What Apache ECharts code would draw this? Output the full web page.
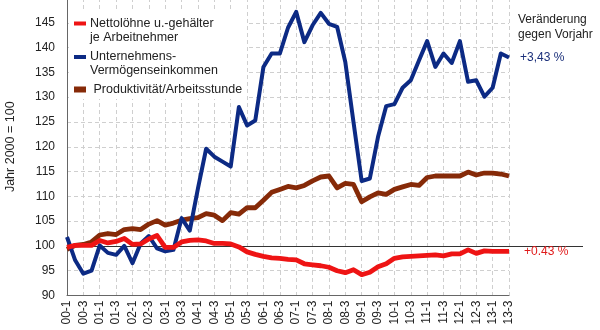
<!DOCTYPE html>
<html>
<head>
<meta charset="utf-8">
<script src="https://cdn.jsdelivr.net/npm/echarts@6/dist/echarts.min.js"></script>
<style>html,body{margin:0;padding:0;background:#fff}#c{width:600px;height:330px}</style>
</head>
<body>
<div id="c"></div>
<script>
const categories = ["00-1","00-2","00-3","00-4","01-1","01-2","01-3","01-4","02-1","02-2","02-3","02-4","03-1","03-2","03-3","03-4","04-1","04-2","04-3","04-4","05-1","05-2","05-3","05-4","06-1","06-2","06-3","06-4","07-1","07-2","07-3","07-4","08-1","08-2","08-3","08-4","09-1","09-2","09-3","09-4","10-1","10-2","10-3","10-4","11-1","11-2","11-3","11-4","12-1","12-2","12-3","12-4","13-1","13-2","13-3"];
const nettoloehne = [99.7,100.1,100.1,100.1,101.1,100.6,100.9,101.5,100.3,100.4,101.4,102.1,99.7,99.7,100.8,101.1,101.2,101.0,100.5,100.5,100.4,99.8,98.8,98.3,97.9,97.6,97.5,97.3,97.2,96.4,96.2,96.0,95.7,95.0,94.6,95.2,94.2,94.7,95.8,96.4,97.5,97.8,97.9,98.0,98.1,98.2,98.0,98.4,98.4,99.2,98.5,99.0,98.9,98.9,98.9];
const unternehmen = [101.8,97.1,94.4,95.0,100.1,98.6,98.2,100.0,96.5,100.5,102.0,99.5,98.9,99.2,105.6,103.1,111.6,119.6,118.0,117.0,116.0,128.0,124.3,125.3,136.1,138.8,138.8,144.0,147.2,141.1,144.5,147.0,144.8,144.2,137.1,125.0,113.1,113.6,122.0,128.2,128.6,131.9,133.4,137.4,141.3,136.1,138.8,136.9,141.3,133.1,133.4,130.1,131.9,138.8,138.0];
const produktivitaet = [99.3,100.1,100.3,100.8,102.2,102.5,102.3,103.3,103.5,103.3,104.4,105.1,104.2,104.6,105.2,105.5,105.7,106.5,106.2,105.1,106.7,106.4,107.7,107.7,109.2,110.8,111.4,112.0,111.7,112.2,113.1,113.9,114.1,111.7,112.6,112.4,108.9,109.9,110.7,110.4,111.4,111.9,112.4,112.2,113.8,114.1,114.1,114.1,114.1,114.9,114.3,114.7,114.7,114.5,114.1];
const seriesNames = ["Nettolöhne u.-gehälter\nje Arbeitnehmer", "Unternehmens-\nVermögenseinkommen", " Produktivität/Arbeitsstunde"];
const endLabels = ["+0.43 %", "+3,43 %"];
const yAxisName = "Jahr 2000 = 100";
const noteText = "Veränderung\ngegen Vorjahr";

const FONT = "'Liberation Sans', Arial, sans-serif";
const RED = "#ee1414", BLUE = "#0c2a84", BROWN = "#862a08";

const chart = echarts.init(document.getElementById('c'), null, {renderer: 'canvas'});

function legendItem(color, iy, ih, tx, ty, text) {
  return [
    {type: 'rect', left: 74, top: iy - ih / 2, z: 11, shape: {width: 12, height: ih}, style: {fill: color}},
    {type: 'text', left: tx, top: ty, z: 11, style: {text: text, font: '12.5px ' + FONT, fill: '#222', lineHeight: 14}}
  ];
}

const option = {
  animation: false,
  backgroundColor: '#fff',
  textStyle: {fontFamily: FONT},
  grid: {left: 67, right: 91, top: -2, bottom: 34.5, containLabel: false, outerBoundsMode: 'none'},
  xAxis: {
    type: 'category',
    data: categories,
    boundaryGap: false,
    axisLine: {lineStyle: {color: '#666', width: 1}},
    axisTick: {show: false},
    axisLabel: {interval: 1, rotate: 90, margin: 5, fontSize: 12, color: '#222', fontFamily: FONT},
    splitLine: {show: true, interval: 1, lineStyle: {color: '#cfcfcf', type: [4, 3], width: 1}}
  },
  yAxis: {
    type: 'value',
    min: 90, max: 150, interval: 5,
    name: yAxisName,
    nameLocation: 'middle',
    nameGap: 50,
    nameRotate: 90,
    nameTextStyle: {fontSize: 12.5, color: '#222', fontFamily: FONT},
    axisLine: {show: true, lineStyle: {color: '#666', width: 1}},
    axisTick: {show: false},
    axisLabel: {fontSize: 12, color: '#222', margin: 12, fontFamily: FONT, showMaxLabel: false,
      formatter: v => (v >= 150 ? '' : String(v))},
    splitLine: {show: true, lineStyle: {color: '#cfcfcf', type: [4, 3], width: 1}}
  },
  series: [
    {
      name: seriesNames[2], type: 'line', data: produktivitaet, symbol: 'none', z: 2,
      lineStyle: {color: BROWN, width: 4.8, join: 'round'}
    },
    {
      name: seriesNames[1], type: 'line', data: unternehmen, symbol: 'none', z: 3,
      lineStyle: {color: BLUE, width: 4, join: 'round'},
      endLabel: {show: true, formatter: endLabels[1], color: '#1a2f7a', fontSize: 12, distance: 11, fontFamily: FONT}
    },
    {
      name: seriesNames[0], type: 'line', data: nettoloehne, symbol: 'none', z: 4,
      lineStyle: {color: RED, width: 4.8, join: 'round'},
      endLabel: {show: true, formatter: endLabels[0], color: '#e01a1a', fontSize: 12, distance: 15, fontFamily: FONT}
    }
  ],
  graphic: {
    elements: [].concat(
      [{type: 'rect', left: 69, top: 11, z: 10, shape: {width: 177, height: 88}, style: {fill: '#fff'}}],
      legendItem(RED, 23.5, 4, 90, 17, seriesNames[0]),
      legendItem(BLUE, 57, 4, 90, 50, seriesNames[1]),
      legendItem(BROWN, 89.5, 6, 90, 83, seriesNames[2]),
      [{type: 'text', left: 518, top: 12, style: {text: noteText, font: '12px ' + FONT, fill: '#222', lineHeight: 15}}]
    )
  }
};
chart.setOption(option);

// reference line at 100, extending beyond the plot area
const y100 = chart.convertToPixel({yAxisIndex: 0}, 100);
const x0 = chart.convertToPixel({xAxisIndex: 0}, categories[0]);
chart.setOption({
  graphic: {
    elements: [{
      id: 'ref100', type: 'line', z: 1,
      shape: {x1: x0, y1: Math.round(y100) + 0.5, x2: 583, y2: Math.round(y100) + 0.5},
      style: {stroke: '#333', lineWidth: 1}
    }]
  }
});
</script>
</body>
</html>
